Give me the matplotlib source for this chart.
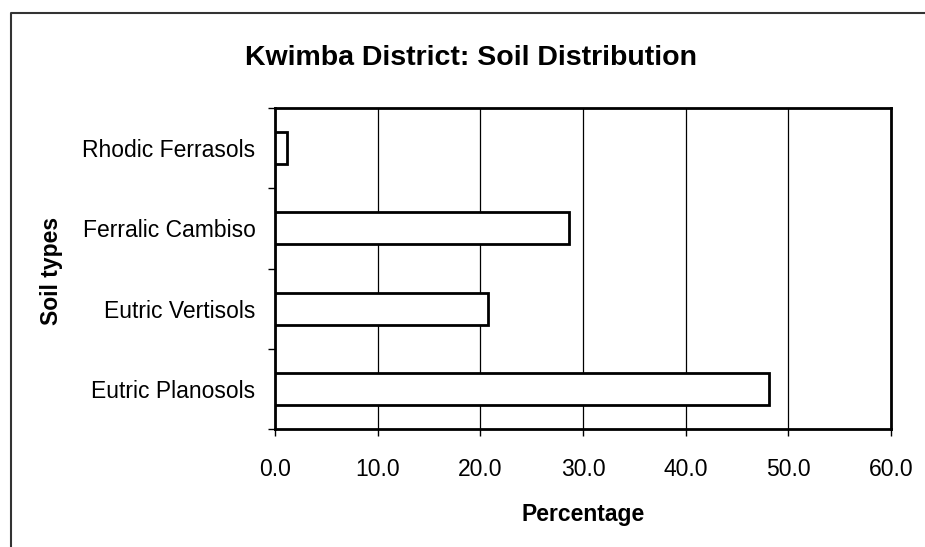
# soil distribution bar chart for Kwimba district

import matplotlib
matplotlib.use('Agg')
import matplotlib.pyplot as plt
from matplotlib.lines import Line2D
import numpy as np

soil_types = ['Eutric Planosols', 'Eutric Vertisols', 'Ferralic Cambiso', 'Rhodic Ferrasols']
percentages = [48.1, 20.7, 28.6, 1.2]
x_ticks = [0, 10, 20, 30, 40, 50, 60]

plt.rcParams['font.family'] = ['Liberation Sans', 'DejaVu Sans']

W, H = 925, 547


def main():
    fig = plt.figure(figsize=(W / 100, H / 100), dpi=100)
    ax = fig.add_axes([275 / W, 1 - 429 / H, (891 - 275) / W, (429 - 108) / H])

    pos = np.arange(len(soil_types))
    ax.barh(pos, percentages, height=0.4, color='white', edgecolor='black', linewidth=2, zorder=3)

    ax.set_xlim(0, 60)
    ax.set_ylim(-0.5, len(soil_types) - 0.5)
    ax.set_xticks(x_ticks)
    ax.set_xticklabels(['%.1f' % v for v in x_ticks])
    ax.set_yticks(pos)
    ax.set_yticklabels(soil_types)
    ax.set_yticks(np.arange(len(soil_types) + 1) - 0.5, minor=True)

    ax.tick_params(axis='y', which='major', length=0, pad=14, labelsize=16.5)
    ax.tick_params(axis='y', which='minor', length=5, width=1, direction='out')
    ax.tick_params(axis='x', length=5, width=1, direction='out', pad=16, labelsize=16.5)

    ax.grid(axis='x', color='black', linewidth=0.9, zorder=0)
    for s in ax.spines.values():
        s.set_linewidth(2)
        s.set_color('black')

    ax.set_xlabel('Percentage', fontsize=16.5, fontweight='bold', labelpad=16)
    fig.text(40 / W, 1 - 271 / H, 'Soil types', fontsize=16.5, fontweight='bold',
             rotation=90, ha='left', va='center')
    fig.text(471 / W, 1 - 65 / H, 'Kwimba District: Soil Distribution', fontsize=20.5,
             fontweight='bold', ha='center', va='baseline')

    # chart frame, only the top and left edges fall inside the image
    fig.add_artist(Line2D([10.5 / W, 10.5 / W, 1], [0, 1 - 12.5 / H, 1 - 12.5 / H],
                          transform=fig.transFigure, color='#333333', linewidth=1.5))

    fig.savefig('out.png', dpi=100)


if __name__ == "__main__":
    main()
